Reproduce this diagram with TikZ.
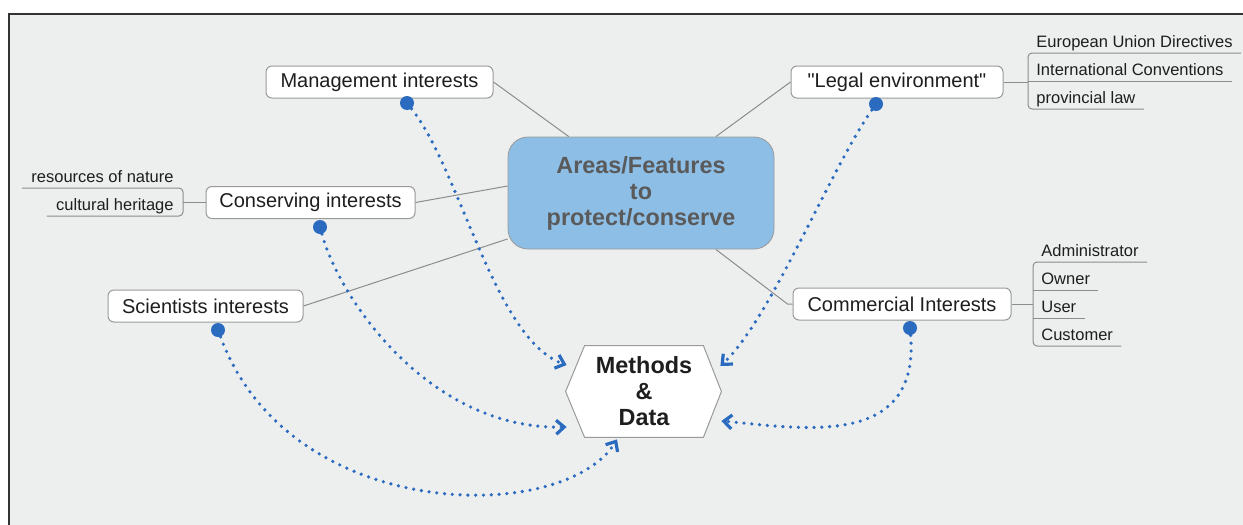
\documentclass[tikz,border=0pt]{standalone}
\usepackage{fontspec}
\setmainfont{Liberation Sans}[Ligatures=TeXOff]
\usetikzlibrary{positioning,calc,arrows.meta,backgrounds}
\definecolor{bggray}{HTML}{EDEEEE}
\definecolor{framegray}{HTML}{333333}
\definecolor{boxgray}{HTML}{9A9A9A}
\definecolor{linegray}{HTML}{8C8C8C}
\definecolor{areablue}{HTML}{8DBEE6}
\definecolor{areatext}{HTML}{5A5A5A}
\definecolor{linkblue}{HTML}{2A6BBF}
\definecolor{txt}{HTML}{1E1E1E}

\begin{document}
\begin{tikzpicture}[x=0.5pt,y=-0.5pt,
    interest/.style={draw=boxgray, line width=0.5pt, fill=white, rounded corners=3pt, inner sep=0pt,
                     minimum height=16pt, text=txt, font=\fontsize{10}{12}\selectfont},
    leaf/.style={text=txt, inner xsep=4pt, inner ysep=1pt, text height=6pt, text depth=1.5pt,
                 font=\fontsize{8.25}{10}\selectfont},
    branch/.style={draw=linegray, line width=0.5pt},
    dot/.style={circle, fill=linkblue, inner sep=0pt, minimum size=7pt},
    link/.style={linkblue, line width=1.8pt, line cap=round, dash pattern=on 0pt off 3.9pt,
                 -{Straight Barb[length=4pt,width=7pt,line width=1.6pt]}}]
  \useasboundingbox (0,0) rectangle (1243,525);
  \begin{scope}[on background layer]
    \fill[white] (0,0) rectangle (1243,525);
    \fill[bggray] (9,13) rectangle (1243,525);
    \draw[framegray, line width=1pt] (8.5,525) -- (8.5,13.5) -- (1243,13.5);
  \end{scope}

  \node[draw=boxgray, fill=areablue, rounded corners=10pt, minimum width=133pt, minimum height=56pt,
        align=center, text=areatext, font=\bfseries\fontsize{11.7}{13}\selectfont]
        (area) at (641,193) {Areas/Features\\to\\protect/conserve};
  \node[minimum width=59pt, minimum height=45.5pt, inner sep=0pt, align=center, text=txt,
        font=\bfseries\fontsize{11.7}{13}\selectfont] (meth) at (644,391.5) {Methods\\\&\\Data};
  \begin{scope}[on background layer]
    \draw[boxgray, line width=0.5pt, fill=white] (meth.north west) -- (meth.north east) -- ($(meth.east)+(18,0)$)
      -- (meth.south east) -- (meth.south west) -- ($(meth.west)+(-19,0)$) -- cycle;
  \end{scope}

  \node[interest, minimum width=113.5pt] (mgmt) at (379.5,82) {Management interests};
  \node[interest, minimum width=106pt] (legal) at (897,82) {"Legal environment"};
  \node[interest, minimum width=104.5pt] (cons) at (310.5,202.5) {Conserving interests};
  \node[interest, minimum width=97.5pt] (sci) at (205.5,306) {Scientists interests};
  \node[interest, minimum width=109pt] (comm) at (902,304) {Commercial Interests};

  \draw[branch] (mgmt.east) -- (area.142.5);
  \draw[branch] (legal.west) -- (area.37);
  \draw[branch] (cons.east) -- (area.177);
  \draw[branch] (sci.east) -- (area.199);
  \draw[branch] (area.-37) -- ([xshift=-2.5pt]comm.west) -- (comm.west);

  \node[leaf, anchor=south west] (eu) at (1028,53) {European Union Directives};
  \node[leaf, anchor=south west] (intl) at (1028,81) {International Conventions};
  \node[leaf, anchor=south west] (prov) at (1028,109) {provincial law};
  \draw[branch] (legal.east) -- (legal.east -| eu.south west);
  \draw[branch, rounded corners=2pt] (eu.south east) -- (eu.south west) -- (prov.south west) -- (prov.south east);
  \draw[branch] (intl.south west) -- (intl.south east);

  \node[leaf, anchor=south west] (admin) at (1033,262) {Administrator};
  \node[leaf, anchor=south west] (owner) at (1033,290) {Owner};
  \node[leaf, anchor=south west] (user) at (1033,318) {User};
  \node[leaf, anchor=south west] (cust) at (1033,346) {Customer};
  \draw[branch] (comm.east) -- (comm.east -| admin.south west);
  \draw[branch, rounded corners=2pt] (admin.south east) -- (admin.south west) -- (cust.south west) -- (cust.south east);
  \draw[branch, rounded corners=2pt] (owner.south west) -- (owner.south east);
  \draw[branch, rounded corners=2pt] (user.south west) -- (user.south east);

  \node[leaf, inner xsep=4.5pt, anchor=south east] (res) at (183,188) {resources of nature};
  \node[leaf, inner xsep=4.5pt, anchor=south east] (cult) at (183,216) {cultural heritage};
  \draw[branch] (cons.west) -- (cons.west -| res.south east);
  \draw[branch, rounded corners=2pt] (res.south west) -- (res.south east) -- (cult.south east) -- (cult.south west);

  \node[dot] (mgmtdot) at (407,103) {};
  \node[dot] (legaldot) at (876,104) {};
  \node[dot] (consdot) at (320,227) {};
  \node[dot] (scidot) at (218,330) {};
  \node[dot] (commdot) at (910,328) {};

  \coordinate (mgmttip) at ($(meth.west)+(-18,-26.5)$);
  \coordinate (legaltip) at ($(meth.east)+(17,-25.5)$);
  \coordinate (constip) at ($(meth.west)+(-18,35.5)$);
  \coordinate (scitip) at ($(meth.south)+(-27,2)$);
  \coordinate (commtip) at ($(meth.east)+(18,29.5)$);

  \draw[link] (mgmtdot) .. controls (460,170) and (495,340) .. (mgmttip);
  \draw[link] (legaldot) .. controls (830,170) and (770,320) .. (legaltip);
  \draw[link] (consdot) .. controls (340,300) and (430,430) .. (constip);
  \draw[link] (scidot) .. controls (290,525) and (565,525) .. (scitip);
  \draw[link] (commdot) .. controls (920,450) and (800,428) .. (commtip);
\end{tikzpicture}
\end{document}
